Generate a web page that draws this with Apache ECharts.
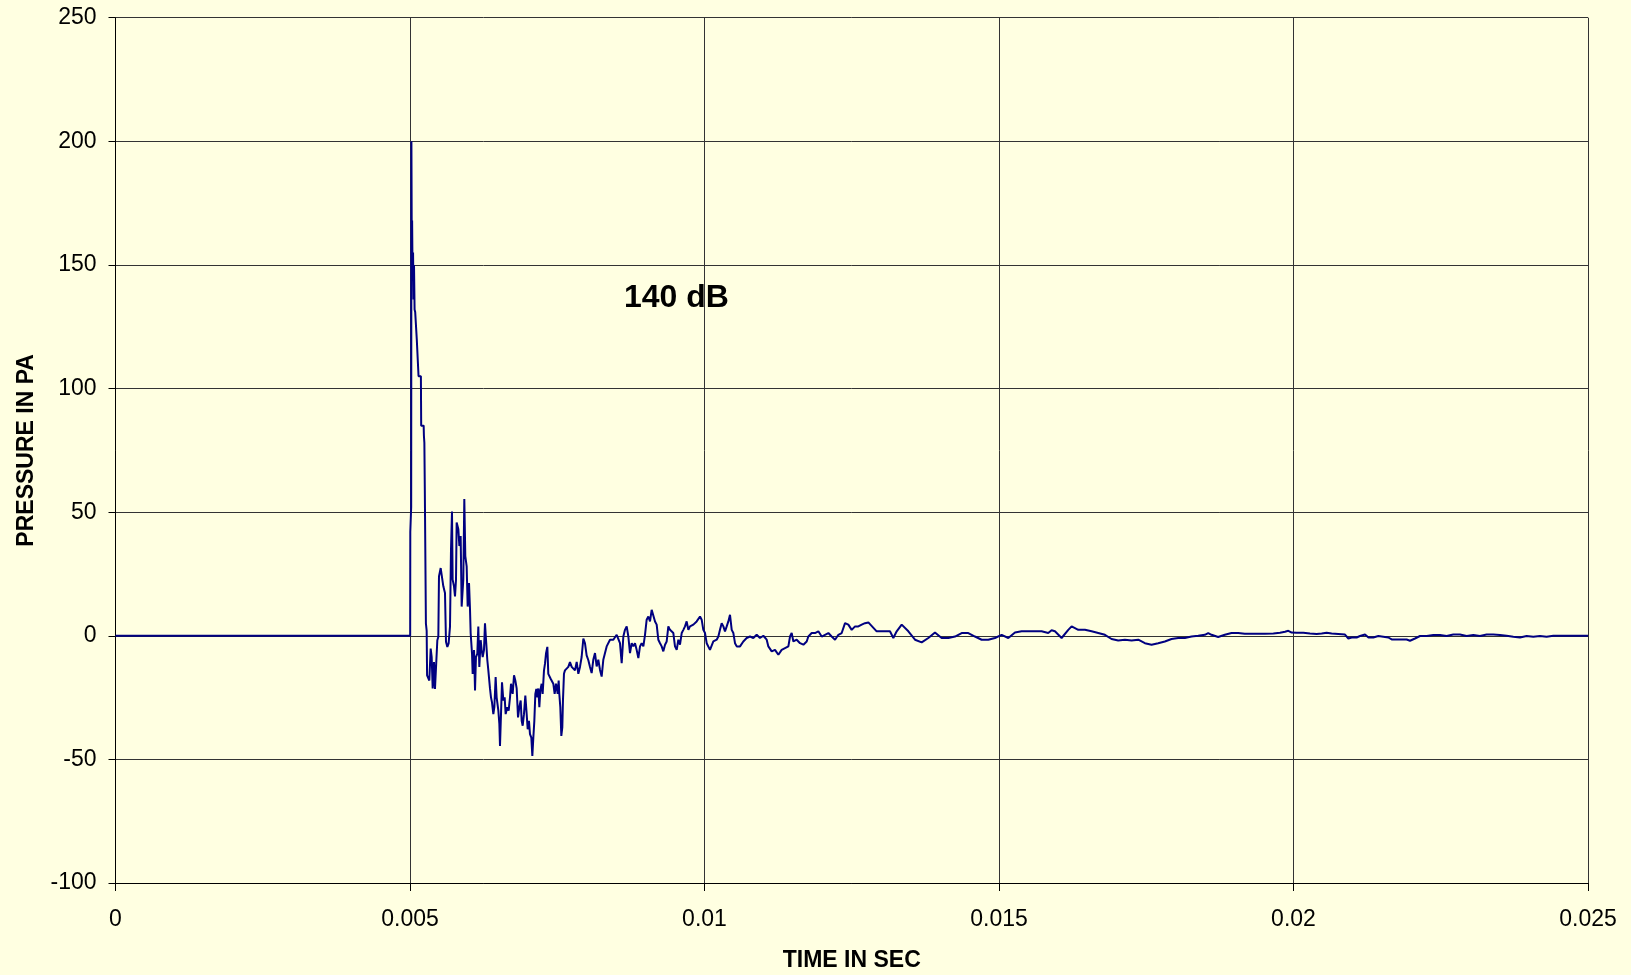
<!DOCTYPE html>
<html>
<head>
<meta charset="utf-8">
<script src="https://cdn.jsdelivr.net/npm/echarts@6/dist/echarts.min.js"></script>
<style>
html,body{margin:0;padding:0;background:#FFFFE1;}
#chart{width:1631px;height:975px;}
</style>
</head>
<body>
<div id="chart"></div>
<script>
// ---- data ----
const xTickLabels = ['0', '0.005', '0.01', '0.015', '0.02', '0.025'];
const yTickLabels = ['-100', '-50', '0', '50', '100', '150', '200', '250'];
const xAxisTitle = 'TIME IN SEC';
const yAxisTitle = 'PRESSURE IN PA';
const annotationText = '140 dB';

const timeSec = [
0, 0.005003, 0.005005, 0.005020, 0.005024, 0.005030, 0.005036, 0.005044, 0.005052, 0.005060,
0.005068, 0.005078, 0.005088, 0.005112, 0.005115, 0.005140, 0.005145, 0.005185, 0.005190, 0.005232,
0.005236, 0.005244, 0.005252, 0.005270, 0.005283, 0.005290,
0.005311, 0.005328, 0.005351, 0.005368, 0.005385, 0.005407, 0.005424, 0.005453, 0.005464, 0.005481,
0.005492, 0.005521, 0.005549, 0.005566, 0.005594, 0.005611, 0.005634, 0.005656, 0.005679, 0.005696,
0.005713, 0.005724, 0.005747, 0.005764, 0.005781, 0.005792, 0.005821, 0.005838, 0.005860, 0.005877,
0.005905, 0.005922, 0.005939, 0.005962, 0.005979, 0.006002, 0.006019, 0.006030, 0.006053, 0.006064,
0.006087, 0.006104, 0.006120, 0.006143, 0.006160, 0.006177, 0.006200, 0.006217, 0.006234, 0.006256,
0.006273, 0.006296, 0.006313, 0.006330, 0.006358, 0.006375, 0.006392, 0.006415, 0.006432, 0.006454,
0.006471, 0.006500, 0.006517, 0.006528, 0.006545, 0.006562, 0.006585, 0.006607, 0.006624, 0.006652,
0.006675, 0.006698, 0.006715, 0.006743, 0.006766, 0.006788, 0.006811, 0.006834, 0.006856, 0.006879,
0.006896, 0.006913, 0.006935, 0.006958, 0.006981, 0.006998, 0.007020, 0.007037, 0.007060, 0.007077,
0.007094, 0.007111, 0.007128, 0.007145, 0.007162, 0.007179, 0.007196, 0.007213, 0.007235, 0.007252,
0.007275, 0.007292, 0.007309, 0.007332, 0.007348, 0.007365, 0.007388, 0.007411, 0.007433, 0.007456,
0.007479, 0.007490, 0.007507, 0.007524, 0.007535, 0.007552, 0.007569, 0.007586, 0.007597, 0.007614,
0.007631, 0.007660, 0.007688, 0.007716, 0.007745, 0.007773, 0.007801, 0.007830, 0.007858, 0.007886,
0.007914, 0.007943, 0.007971, 0.007999, 0.008028, 0.008056,
0.008084, 0.008112, 0.008141, 0.008169, 0.008197, 0.008226, 0.008254, 0.008282, 0.008311, 0.008339,
0.008396, 0.008452, 0.008481, 0.008509, 0.008537, 0.008565, 0.008594, 0.008622, 0.008650, 0.008679,
0.008707, 0.008735, 0.008764, 0.008792, 0.008820, 0.008848, 0.008877, 0.008905, 0.008933, 0.008962,
0.008990, 0.009018, 0.009047, 0.009075, 0.009103, 0.009131, 0.009160, 0.009188, 0.009216, 0.009245,
0.009273, 0.009301, 0.009330, 0.009358, 0.009386, 0.009414, 0.009443, 0.009471, 0.009499, 0.009528,
0.009556, 0.009584, 0.009613, 0.009641, 0.009669, 0.009697, 0.009726, 0.009754, 0.009782, 0.009811,
0.009839, 0.009867, 0.009896, 0.009924, 0.009952, 0.009980, 0.010009, 0.010037, 0.010065, 0.010093,
0.010122, 0.010150, 0.010178, 0.010207, 0.010235, 0.010263, 0.010292, 0.010320, 0.010348, 0.010377,
0.010405, 0.010433, 0.010462, 0.010490, 0.010518, 0.010547, 0.010603,
0.010659, 0.010716, 0.010772, 0.010829, 0.010886, 0.010942, 0.010999, 0.011056, 0.011084, 0.011141,
0.011197, 0.011254, 0.011310, 0.011367, 0.011424, 0.011452, 0.011480, 0.011509, 0.011565, 0.011622,
0.011679, 0.011735, 0.011763, 0.011820, 0.011876, 0.011933, 0.011990, 0.012046, 0.012103, 0.012159,
0.012216, 0.012273, 0.012329, 0.012386, 0.012442, 0.012499, 0.012556, 0.012612, 0.012669, 0.012725,
0.012782,
0.012923, 0.013036, 0.013149, 0.013206, 0.013263, 0.013348, 0.013461, 0.013574, 0.013687, 0.013800,
0.013913, 0.014026, 0.014140, 0.014253, 0.014366, 0.014479, 0.014592, 0.014705, 0.014818, 0.014931,
0.015045, 0.015158, 0.015271, 0.015384, 0.015497, 0.015610, 0.015723, 0.015836, 0.015893, 0.015950,
0.016063, 0.016176, 0.016233, 0.016346, 0.016459, 0.016572, 0.016685, 0.016798, 0.016911, 0.017024,
0.017138, 0.017251, 0.017364, 0.017477, 0.017590, 0.017703, 0.017816, 0.017929, 0.018042, 0.018155,
0.018269, 0.018382, 0.018495, 0.018552, 0.018608, 0.018721, 0.018834, 0.018947, 0.019060, 0.019173,
0.019286, 0.019399, 0.019513,
0.019658, 0.019771, 0.019856, 0.019912, 0.019969, 0.020054, 0.020167, 0.020280, 0.020393, 0.020478,
0.020563, 0.020648, 0.020761, 0.020874, 0.020931, 0.020988, 0.021072, 0.021129, 0.021214, 0.021273,
0.021355, 0.021440, 0.021525, 0.021610, 0.021667, 0.021808, 0.021921, 0.021978, 0.022063, 0.022148,
0.022261, 0.022374, 0.022487, 0.022600, 0.022713, 0.022826, 0.022940, 0.023053, 0.023166, 0.023279,
0.023392, 0.023505, 0.023618, 0.023732, 0.023845, 0.023958, 0.024071, 0.024184, 0.024297, 0.024411,
0.025
];

const pressurePa = [
0, 0, 42, 52, 200, 160, 168, 145, 155, 136,
150, 132, 131, 131, 120, 120, 105, 105, 85, 85,
81, 78, 58, 5, 2, -16,
-16.7, -18.1, -5.2, -8.6, -21.3, -10.6, -21.5, -21.5, -1.8, -0.4,
24.0, 27.4, 28.1, 20.0, 17.3, -2.4, -4.5, -3.1, 3.7, 34.9,
50.3, 22.7, 20.0, 15.9, 22.7, 45.8, 43.1, 36.3, 40.4, 11.8,
22.7, 55.3, 32.2, 28.1, 11.8, 21.3, 10.5, 1.0, -7.2, -15.4,
-5.8, -22.1, -8.6, -7.2, 3.7, -12.6, -1.8, -5.8, -8.6, -5.8,
5.0, 4.3, -9.9, -14.0, -21.3, -24.9, -26.9, -31.7, -28.9, -16.7,
-24.9, -30.3, -35.7, -44.6, -31.7, -18.8, -26.2, -24.9, -31.7, -28.9,
-30.3, -24.9, -19.4, -23.5, -16.0, -18.1, -21.3, -33.0, -28.9, -26.2,
-34.4, -36.4, -31.7, -24.2, -31.7, -37.8, -34.4, -39.8, -41.2, -48.6,
-41.2, -34.4, -23.5, -21.5, -24.9, -21.3, -28.9, -22.1, -19.4, -23.5,
-14.0, -11.3, -7.2, -4.5, -15.4, -14.7, -17.4, -16.7, -19.4, -23.5,
-19.4, -20.8, -23.5, -18.1, -23.5, -28.9, -40.5, -37.1, -26.2, -15.4,
-14.0, -13.3, -12.6, -10.6, -12.6, -11.9, -14.0, -10.6, -15.4, -12.6,
-8.6, -1.1, -3.1, -7.9, -9.9, -12.6,
-15.1, -9.7, -7.0, -12.4, -9.7, -13.8, -16.5, -9.7, -7.0, -4.3,
-1.6, -1.6, -0.9, 0.4, 0.4, -3.0, -11.1, -0.3, 2.4, 3.8,
-0.3, -7.0, -3.0, -4.3, -3.0, -5.7, -9.0, -4.3, -3.0, -4.3,
0.4, 6.5, 7.8, 5.8, 10.5, 11.2, 5.8, 4.5, -1.6, -3.0,
-4.3, -6.3, -3.6, -2.3, 3.8, 2.4, 1.8, 1.1, -4.3, -5.7,
-1.6, -3.6, 1.1, 2.4, 3.8, 5.8, 2.4, 3.8, 3.8, 4.5,
5.1, 5.8, 5.1, 7.8, 6.5, 2.4, 1.1, -3.0, -2.3, -5.7,
-5.7, -2.3, -1.6, -1.6, -0.3, 2.4, 5.1, 3.8, 1.8, 3.8,
5.8, 8.5, 2.4, 1.1, -3.0, -4.3, -4.3,
-2.3, -0.9, -0.3, -0.9, 0.4, -0.9, 0, -1.6, -4.3, -6.3,
-5.7, -7.7, -5.7, -5.0, -4.3, -0.3, 1.1, -2.3, -1.6, -3.0,
-3.6, -2.3, -0.3, 1.1, 1.1, 1.8, -0.3, 0.4, 1.1, -0.3,
-1.6, 0.4, 1.1, 5.1, 4.5, 2.4, 3.8, 3.8, 4.5, 5.1,
5.4,
1.8, 1.8, 1.8, -0.9, 1.8, 4.5, 1.8, -1.6, -2.7, -0.9,
1.3, -0.9, -0.9, -0.3, 1.1, 1.1, -0.3, -1.6, -1.6, -0.9,
0.4, -0.9, 1.3, 1.8, 1.8, 1.8, 1.8, 1.1, 2.2, 1.8,
-0.9, 2.4, 3.8, 2.4, 2.4, 1.8, 1.1, 0.4, -1.3, -1.9,
-1.6, -1.9, -1.6, -3.0, -3.6, -3.0, -2.3, -1.3, -0.9, -0.9,
-0.3, 0, 0.4, 1.1, 0.4, -0.5, 0.4, 1.1, 1.1, 0.8,
0.8, 0.8, 0.8,
0.9, 1.2, 1.6, 2.0, 1.3, 1.2, 1.2, 0.9, 0.7, 0.9,
1.2, 0.9, 0.7, 0.5, -1.1, -0.7, -0.7, -0.1, 0.5, -0.7,
-0.7, -0.1, -0.4, -0.7, -1.5, -1.5, -1.5, -2.0, -1.1, -0.1,
-0.1, 0.3, 0.3, -0.1, 0.5, 0.5, -0.1, 0.3, -0.1, 0.5,
0.5, 0.3, 0, -0.4, -0.7, -0.1, -0.4, -0.1, -0.4, 0,
0
];

const seriesData = timeSec.map((t, i) => [t, pressurePa[i]]);

// ---- chart ----
const FONT = '"Liberation Sans", Arial, sans-serif';
const chart = echarts.init(document.getElementById('chart'), null, { renderer: 'canvas' });
chart.setOption({
  backgroundColor: '#FFFFE1',
  animation: false,
  grid: { left: 115.5, right: 43, top: 17.7, bottom: 92, containLabel: false, outerBoundsMode: 'none' },
  xAxis: {
    type: 'value',
    min: 0, max: 0.025, interval: 0.005,
    name: xAxisTitle,
    nameLocation: 'middle',
    nameGap: 66,
    nameTextStyle: { fontFamily: FONT, fontSize: 23, fontWeight: 'bold', color: '#000' },
    axisLine: { show: true, onZero: false, lineStyle: { color: '#000', width: 1 } },
    axisTick: { show: true, inside: false, length: 8, lineStyle: { color: '#000', width: 1 } },
    axisLabel: {
      margin: 25, fontFamily: FONT, fontSize: 23, color: '#000',
      formatter: (v, i) => xTickLabels[i]
    },
    splitLine: { show: true, lineStyle: { color: '#333', width: 1 } }
  },
  yAxis: {
    type: 'value',
    min: -100, max: 250, interval: 50,
    name: yAxisTitle,
    nameLocation: 'middle',
    nameRotate: 90,
    nameGap: 77,
    nameTextStyle: { fontFamily: FONT, fontSize: 23, fontWeight: 'bold', color: '#000' },
    axisLine: { show: true, onZero: false, lineStyle: { color: '#000', width: 1 } },
    axisTick: { show: true, inside: false, length: 7, lineStyle: { color: '#000', width: 1 } },
    axisLabel: {
      margin: 19, fontFamily: FONT, fontSize: 23, color: '#000',
      formatter: (v, i) => yTickLabels[i]
    },
    splitLine: { show: true, lineStyle: { color: '#333', width: 1 } }
  },
  series: [{
    type: 'line',
    data: seriesData,
    showSymbol: false,
    symbol: 'none',
    lineStyle: { color: '#000080', width: 2 },
    itemStyle: { color: '#000080' },
    z: 5
  }],
  graphic: [{
    type: 'text',
    left: 624,
    top: 282,
    style: { text: annotationText, font: 'bold 32px ' + FONT, fill: '#000' }
  }]
});
</script>
</body>
</html>
